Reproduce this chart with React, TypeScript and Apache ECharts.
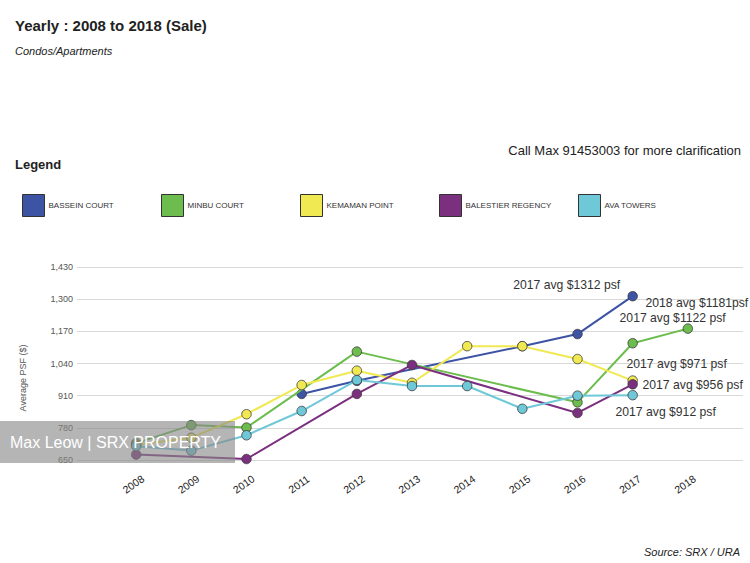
import React, { useEffect, useRef } from "react";
import * as echarts from "echarts";

const years = [2008, 2009, 2010, 2011, 2012, 2013, 2014, 2015, 2016, 2017, 2018];
const seriesNames = ["BASSEIN COURT", "MINBU COURT", "KEMAMAN POINT", "BALESTIER REGENCY", "AVA TOWERS"];
const basseinCourt = [null, null, null, 917, 970, null, null, 1110, 1159, 1312, null];
const minbuCourt = [718, 791, 781, null, 1088, null, null, null, 883, 1122, 1181];
const kemamanPoint = [712, 740, 835, 953, 1011, 962, 1110, 1110, 1058, 971, null];
const balestierRegency = [672, null, 654, null, 917, 1034, null, null, 840, 956, null];
const avaTowers = [706, 688, 750, 848, 973, 949, 949, 857, 910, 912, null];
const yTicks = [650, 780, 910, 1040, 1170, 1300, 1430];

const noteSeries = ["BASSEIN COURT", "MINBU COURT", "MINBU COURT", "KEMAMAN POINT", "BALESTIER REGENCY", "AVA TOWERS"];
const noteYears = [2017, 2018, 2017, 2017, 2017, 2017];
const noteTexts = [
  "2017 avg $1312 psf",
  "2018 avg $1181psf",
  "2017 avg $1122 psf",
  "2017 avg $971 psf",
  "2017 avg $956 psf",
  "2017 avg $912 psf",
];
const noteOffsets = [[-66, -11], [9, -26], [40, -25], [44, -17], [60, 1], [33, 17]];

const colors = ["#3d53a3", "#6cbc4e", "#f1e952", "#7b2f7f", "#6fc8d8"];
const FONT = "'Liberation Sans', Arial, Helvetica, sans-serif";

export default function App() {
  const ref = useRef<HTMLDivElement>(null);
  useEffect(() => {
    document.body.style.margin = "0";
    const chart = echarts.init(ref.current!, null, { renderer: "svg" });
    const allData = [basseinCourt, minbuCourt, kemamanPoint, balestierRegency, avaTowers];
    const series = seriesNames.map((name, si) => ({
      name,
      type: "line",
      connectNulls: true,
      symbol: "circle",
      symbolSize: 9.5,
      z: 2 + si,
      lineStyle: { color: colors[si], width: 2 },
      itemStyle: { color: colors[si], borderColor: "#3a3a3a", borderWidth: 0.8 },
      data: years.map((yr, i) => {
        const v = allData[si][i];
        const idx = noteSeries.findIndex((s, k) => s === name && noteYears[k] === yr);
        if (idx >= 0 && v != null) {
          return {
            value: [yr, v],
            label: {
              show: true,
              formatter: noteTexts[idx],
              position: "inside",
              offset: noteOffsets[idx],
              fontSize: 12.2,
              color: "#333",
              fontFamily: FONT,
            },
          };
        }
        return [yr, v];
      }),
    }));

    const legendLefts = [22, 161, 300, 439, 578];
    const legends = seriesNames.map((name, i) => ({
      left: legendLefts[i],
      top: 194,
      padding: 0,
      icon: "rect",
      itemWidth: 22,
      itemHeight: 22,
      itemGap: 0,
      selectedMode: false,
      data: [{ name, itemStyle: { color: colors[i], borderColor: "#333", borderWidth: 1 } }],
      textStyle: { fontSize: 8, color: "#333", fontFamily: FONT, padding: [0, 0, 0, -1] },
    }));

    chart.setOption({
      animation: false,
      backgroundColor: "#fff",
      textStyle: { fontFamily: FONT },
      legend: legends,
      grid: { left: 81, right: 7, top: 267, bottom: 103, containLabel: false },
      xAxis: {
        type: "value",
        min: 2007,
        max: 2019,
        interval: 1,
        axisLine: { show: false },
        axisTick: { show: false },
        splitLine: { show: false },
        axisLabel: {
          rotate: 35,
          align: "center",
          verticalAlign: "middle",
          margin: 22,
          padding: [0, 7, 0, 0],
          fontSize: 10.5,
          color: "#222",
          formatter: (v: number) => (years.includes(v) ? String(v) : ""),
        },
      },
      yAxis: {
        type: "value",
        min: yTicks[0],
        max: yTicks[yTicks.length - 1],
        interval: yTicks[1] - yTicks[0],
        axisLine: { show: false },
        axisTick: { show: true, length: 4, lineStyle: { color: "#d8d8d8" } },
        splitLine: { show: true, lineStyle: { color: "#d8d8d8", width: 1 } },
        axisLabel: {
          margin: 8,
          fontSize: 9,
          color: "#555",
          formatter: (v: number) => v.toLocaleString("en-US"),
        },
      },
      graphic: [
        { type: "text", left: 15, top: 18, style: { text: "Yearly : 2008 to 2018 (Sale)", font: `bold 15px ${FONT}`, fill: "#222" } },
        { type: "text", left: 15, top: 45, style: { text: "Condos/Apartments", font: `italic 11px ${FONT}`, fill: "#222" } },
        { type: "text", right: 9, top: 144, style: { text: "Call Max 91453003 for more clarification", font: `13px ${FONT}`, fill: "#222" } },
        { type: "text", left: 15, top: 158, style: { text: "Legend", font: `bold 13px ${FONT}`, fill: "#222" } },
        {
          type: "text",
          x: 23,
          y: 378,
          rotation: Math.PI / 2,
          style: { text: "Average PSF ($)", font: `9px ${FONT}`, fill: "#555", align: "center", verticalAlign: "middle" },
        },
        { type: "text", right: 10, top: 546, style: { text: "Source: SRX / URA", font: `italic 11px ${FONT}`, fill: "#222" } },
        {
          type: "group",
          z: 100,
          children: [
            { type: "rect", shape: { x: 0, y: 421, width: 235, height: 42 }, style: { fill: "rgba(135,135,135,0.62)" }, z: 100 },
            { type: "text", x: 10, y: 442, style: { text: "Max Leow | SRX PROPERTY", font: `16px ${FONT}`, fill: "#fff", verticalAlign: "middle" }, z: 101 },
          ],
        },
      ],
      series,
    });
    return () => chart.dispose();
  }, []);
  return <div ref={ref} style={{ width: 750, height: 563, position: "fixed", left: 0, top: 0 }} />;
}
